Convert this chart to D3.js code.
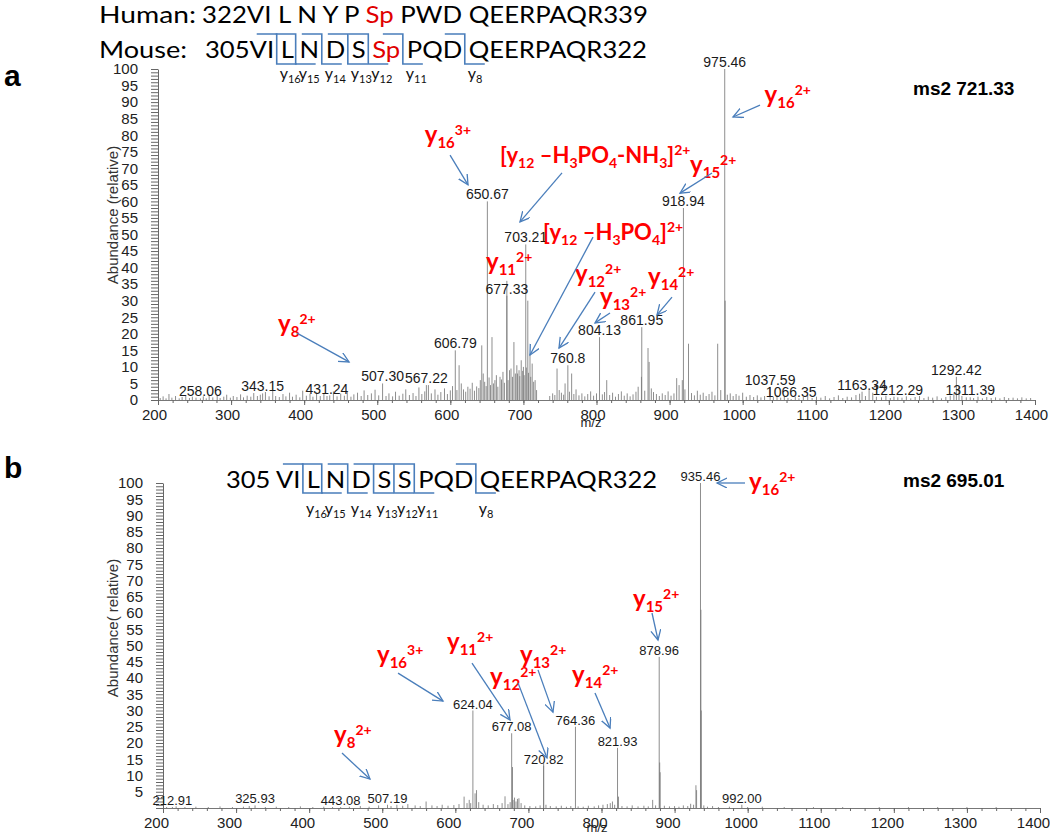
<!DOCTYPE html>
<html>
<head>
<meta charset="utf-8">
<script src="https://cdn.jsdelivr.net/npm/d3@7"></script>
<style>
  body { margin: 0; background: #fff; }
</style>
</head>
<body>
<svg id="chart" width="1050" height="836"></svg>
<script>
// ---------------- data: panel a (ms2 721.33) ----------------
// labelled peaks: [label text = m/z, label height (relative abundance)]
const labeledA = [["975.46",100],["918.94",58],["650.67",60],["703.21",47],["677.33",31.5],["861.95",22],
  ["804.13",19],["760.8",10.5],["606.79",15],["567.22",4.5],["507.30",5],["431.24",1.2],["343.15",2],
  ["258.06",0.5],["1037.59",4],["1066.35",0.3],["1163.34",2.5],["1212.29",0.8],["1292.42",7],["1311.39",0.8]];
const peaksA = [[677.33,36],[612,10.5],[643,16.5],[645,8],[657,19],[661,6],[668,7],[681,9],[687,17.5],[692,8],[697,12],
  [700,10],[706,30],[709,14],[712,11],[716,6],[746,9.5],[757,5],[766,8],[814,6],[861.5,7],[870.5,15.7],
  [872,11.5],[909.7,6.6],[917.4,6],[925.9,17],[965.8,17],[976,30]];
const noiseA = [[203,0.6],[207,1.1],[211,0.5],[215,1.8],[219,0.7],[224,1.2],[229,0.5],[233,0.9],[238,1.4],[243,0.6],
  [247,1.0],[252,0.7],[262,1.1],[266,0.5],[270,1.5],[275,0.8],[281,1.2],[285,0.6],[290,1.0],[294,1.6],[299,0.7],
  [303,1.2],[308,0.9],[313,1.7],[317,0.8],[322,1.3],[327,1.0],[331,2.1],[336,1.2],[340,1.6],[347,2.4],[352,1.1],
  [357,3.0],[361,1.2],[366,0.9],[371,1.8],[375,1.1],[380,2.2],[384,1.0],[389,1.6],[394,0.8],[398,2.8],[403,1.3],
  [408,1.9],[412,1.0],[417,2.3],[422,1.2],[427,1.8],[435,1.4],[440,2.6],[445,1.1],[450,1.9],[455,1.3],[459,2.4],
  [464,1.0],[468,1.7],[473,2.2],[478,1.2],[482,2.9],[487,1.5],[492,2.0],[497,3.1],[502,1.4],[512,1.2],[516,2.0],
  [521,1.1],[525,2.5],[530,1.3],[535,1.9],[539,3.2],[544,1.5],[549,2.1],[553,1.2],[557,3.8],[561,1.8],[565,2.6],
  [570,4.5],[574,2.0],[579,3.2],[583,1.6],[587,2.4],[592,3.5],[596,1.8],[600,2.9],[603,4.2],[609,3.0],[615,5.0],
  [618,3.2],[621,2.5],[624,4.0],[627,3.4],[630,5.2],[633,2.8],[636,4.1],[639,3.6],[641,6.0],[647,5.5],[649,4.2],
  [653,6.8],[655,4.5],[659,5.0],[663,7.5],[665,4.0],[670,6.2],[672,8.5],[674,5.2],[679,6.0],[683,9.5],[685,7.0],
  [689,8.0],[691,10.5],[694,9.0],[695,7.2],[699,8.8],[701,7.5],[704,9.8],[707,8.2],[710,7.0],[714,5.5],[718,3.0],
  [736,1.2],[740,2.0],[743,1.5],[749,3.0],[752,2.2],[755,1.6],[763,2.5],[769,1.8],[772,3.2],[776,1.4],[780,2.0],
  [784,1.1],[788,1.8],[792,2.6],[796,1.3],[800,2.0],[808,1.7],[811,2.4],[818,1.5],[822,2.2],[826,1.0],[830,1.8],
  [834,2.6],[838,1.3],[842,2.0],[846,1.1],[850,1.7],[854,2.5],[857,4.0],[866,2.8],[875,3.5],[878,2.4],[882,1.8],
  [886,1.2],[890,2.0],[894,1.5],[898,2.6],[902,1.3],[906,2.0],[913,4.5],[921,3.2],[930,2.1],[934,1.4],[938,2.8],
  [942,1.6],[946,2.2],[950,1.2],[954,1.8],[958,2.5],[962,1.4],[970,3.0],[979,1.6],[983,2.0],[987,1.2],[991,1.8],
  [995,1.3],[1000,2.2],[1005,1.0],[1010,1.5],[1015,0.9],[1020,1.4],[1025,0.8],[1030,1.2],[1042,1.0],[1047,1.5],
  [1052,0.7],[1057,1.1],[1062,0.6],[1072,1.0],[1077,0.5],[1083,0.9],[1089,1.3],[1095,0.6],[1101,1.0],[1107,0.7],
  [1113,1.2],[1119,0.5],[1125,0.9],[1131,1.4],[1137,0.6],[1143,1.0],[1149,0.8],[1155,1.5],[1160,1.9],[1168,1.2],
  [1173,3.0],[1178,2.2],[1183,1.0],[1190,0.8],[1196,1.3],[1202,0.6],[1207,1.0],[1218,0.7],[1224,1.1],[1230,0.5],
  [1236,0.9],[1242,1.2],[1248,0.6],[1254,1.0],[1260,0.7],[1266,1.1],[1272,0.5],[1278,0.9],[1284,1.3],[1289,2.0],
  [1296,4.0],[1300,1.2],[1306,0.8],[1316,0.6],[1322,1.0],[1328,0.5],[1334,0.9],[1340,0.6],[1346,0.8],[1352,0.5],
  [1358,0.9],[1364,0.6],[1370,0.7],[1376,0.5],[1382,0.8],[1388,0.5],[1394,0.6]];

// ion annotations: [ion, subscript, superscript, label m/z, label abundance, arrow from m/z, abundance, arrow to m/z, abundance]
const ionsA = [
  ["y","16","3+",565,77.6, 599.6,74.0, 624.2,65.0],
  ["y","15","2+",928,68.6, 958.1,68.6, 914.3,62.5],
  ["y","16","2+",1030,89.7, 1023.7,89.1, 986.8,85.5],
  ["y","11","2+",648.8,39.3, null,null, null,null],
  ["y","12","2+",770.6,35.6, 798.0,32.6, 748.7,15.7],
  ["y","13","2+",804.8,28.7, 818.5,26.3, 798.0,23.3],
  ["y","14","2+",870.5,34.7, 903.3,31.1, 882.8,25.7],
  ["y","8","2+",364.2,20.5, 390.2,20.2, 461.4,11.5]
];
const lossA = [
  [[["[y",""],["12","sub"],[" \u2013H",""],["3","sub"],["PO",""],["4","sub"],["-NH",""],["3","sub"],["]",""],["2+","sup"]],
    668,71.6, 752.8,68.6, 695.3,53.8],
  [[["[y",""],["12","sub"],[" \u2013H",""],["3","sub"],["PO",""],["4","sub"],["]",""],["2+","sup"]],
    726.8,48.3, 795.2,49.2, 709.0,13.6]
];

// ---------------- data: panel b (ms2 695.01) ----------------
const labeledB = [["935.46",100],["878.96",46.5],["821.93",18.5],["764.36",25],["720.82",13],["677.08",23],
  ["624.04",30],["507.19",1],["443.08",0.3],["325.93",0.8],["212.91",0.3],["992.00",1]];
const peaksB = [[720.82,14],[678.2,12.6],[823.2,3.5],[879.6,14],[880.2,11],[929.2,7],[930.1,5.5],[936.0,61],[936.5,30]];
const noiseB = [[205,0.3],[218,0.5],[230,0.3],[245,0.4],[262,0.3],[278,0.5],[295,0.3],[310,0.4],[318,0.6],[340,0.3],
  [355,0.4],[372,0.3],[388,0.5],[405,0.3],[420,0.4],[432,0.3],[455,0.4],[470,0.6],[482,0.4],[495,0.8],[512,0.6],
  [520,1.0],[528,0.7],[535,1.2],[545,0.8],[552,0.6],[560,2.0],[568,0.8],[575,0.6],[582,1.0],[590,0.7],[598,0.9],
  [605,1.2],[612,3.5],[616,1.5],[619,2.5],[621,1.5],[627,4.5],[629,5.5],[632,1.8],[638,1.0],[645,0.8],[652,1.2],
  [658,0.9],[664,1.5],[668,3.6],[672,1.2],[675,1.8],[679,2.5],[681,3.2],[683,2.0],[685,2.8],[687,3.0],[690,1.5],
  [695,0.8],[702,0.6],[710,0.5],[716,0.8],[724,1.0],[730,0.6],[738,0.5],[745,0.7],[752,0.4],[758,0.6],[768,0.5],
  [775,0.4],[782,0.7],[790,0.5],[796,0.8],[802,1.0],[808,1.2],[812,1.5],[815,2.0],[818,1.0],[828,0.6],[835,0.5],
  [842,0.8],[850,0.5],[858,0.7],[864,0.5],[870,2.5],[874,0.8],[886,0.7],[893,0.5],[900,0.6],[906,0.4],[912,0.8],
  [918,0.6],[922,1.3],[926,1.0],[940,0.8],[945,0.4],[952,0.6],[960,0.3],[975,0.4],[1000,0.3],[1020,0.4],[1050,0.3],
  [1090,0.3],[1130,0.3],[1180,0.3],[1220,0.3],[1260,0.3],[1300,0.3],[1340,0.3]];
const ionsB = [
  ["y","16","3+",492.8,44.6, 521.6,41.5, 583.1,32.9],
  ["y","11","2+",588.6,48.6, 622.8,44.6, 674.8,27.1],
  ["y","12","2+",647.5,37.8, 685.8,38.5, 725.4,15.4],
  ["y","13","2+",688.5,44.6, 713.1,42.5, 733.6,29.5],
  ["y","14","2+",759.7,38.5, 791.1,35.4, 811.7,24.6],
  ["y","8","2+",434,20, 444.9,16.9, 483.2,8.9],
  ["y","15","2+",843.1,61.8, 869.1,60, 877.3,51.7],
  ["y","16","2+",1001.9,97.8, 996.4,100, 958.1,100]
];

// sequences: parts [text, colour]; cuts = char index of the residue after each cleavage
const seqHuman = [["322VI L N Y P ","#000"],["Sp","#e00000"],[" PWD QEERPAQR339","#000"]];
const seqMouse = [["305VI L N D S ","#000"],["Sp","#e00000"],[" PQD QEERPAQR322","#000"]];
const seqB = [["305 VI L N D S S PQD QEERPAQR322","#000"]];
const cutsMouse = [6, 8, 10, 12, 14, 17, 21];
const cutsB = [7, 9, 11, 13, 15, 17, 21];
const ionNames = ["16","15","14","13","12","11","8"];

const xTicks = d3.range(200, 1401, 100);

// ------------------------------------------------------------------
const svg = d3.select("#chart");
const AX_FONT = "'Liberation Sans', Arial, Helvetica, sans-serif";
const SEQ_FONT = "Lato, 'Noto Sans', sans-serif";
const BLUE = "#4a7ebb";

svg.append("defs").append("marker")
  .attr("id", "arr").attr("markerUnits", "userSpaceOnUse")
  .attr("markerWidth", 14).attr("markerHeight", 14)
  .attr("refX", 10).attr("refY", 5).attr("orient", "auto")
  .append("path").attr("d", "M0,0 L10,5 L0,10")
  .attr("fill", "none").attr("stroke", BLUE).attr("stroke-width", 1.3);

function seqText(x, y, width) {
  return svg.append("text")
    .attr("x", x).attr("y", y)
    .attr("font-family", SEQ_FONT).attr("font-size", 24)
    .attr("textLength", width).attr("lengthAdjust", "spacingAndGlyphs")
    .style("white-space", "pre");
}

function drawSeq(x, y, parts, width, cuts, top, bottom, labelY) {
  const t = seqText(x, y, width);
  parts.forEach(p => t.append("tspan").attr("fill", p[1]).text(p[0]));
  if (!cuts) return;
  const node = t.node();
  cuts.forEach((ci, i) => {
    const s = node.getStartPositionOfChar(ci - 1).x;
    const e = node.getEndPositionOfChar(ci - 1).x;
    const vx = s + (e - s) * 0.4;
    svg.append("path")
      .attr("d", `M${vx - 20},${top} H${vx} V${bottom} H${vx + 20}`)
      .attr("fill", "none").attr("stroke", BLUE).attr("stroke-width", 1.6);
    const lab = svg.append("text").attr("x", vx + 3).attr("y", labelY)
      .attr("font-family", SEQ_FONT).attr("font-size", 16).attr("fill", "#111");
    lab.append("tspan").text("y");
    lab.append("tspan").attr("font-size", 11).attr("dy", 4).text(ionNames[i]);
  });
}

function drawPanel(o) {
  const x = d3.scaleLinear().domain([200, 1400]).range(o.xr);
  const y = d3.scaleLinear().domain([0, 100]).range(o.yr);
  const g = svg.append("g");

  // y ruler axis
  const ya = g.append("g").attr("transform", `translate(${o.xr[0]},0)`)
    .call(d3.axisLeft(y).tickValues(d3.range(0, 101, 1)).tickSize(7).tickSizeOuter(0).tickPadding(13)
      .tickFormat(d => (d % 5 === 0 && d >= o.minLabel) ? d : ""));
  ya.selectAll("line").attr("stroke", "#666");
  ya.select(".domain").attr("stroke", "#666");
  ya.selectAll("text").attr("font-family", AX_FONT).attr("font-size", 15).attr("fill", "#222");

  // x axis: minor then major
  const xm = g.append("g").attr("transform", `translate(0,${o.yr[0]})`)
    .call(d3.axisBottom(x).tickValues(d3.range(200, 1401, 20)).tickSize(3).tickFormat(""));
  xm.selectAll("line").attr("stroke", "#666");
  xm.select(".domain").attr("stroke", "#777");
  const xa = g.append("g").attr("transform", `translate(0,${o.yr[0]})`)
    .call(d3.axisBottom(x).tickValues(xTicks).tickSize(5).tickPadding(4).tickFormat(d3.format("d")));
  xa.select(".domain").remove();
  xa.selectAll("line").attr("stroke", "#666");
  xa.selectAll("text").attr("font-family", AX_FONT).attr("font-size", 15).attr("fill", "#222").attr("dx", o.tickDx);

  g.append("text").attr("x", o.mzPos[0]).attr("y", o.mzPos[1]).attr("text-anchor", "middle")
    .attr("font-family", AX_FONT).attr("font-size", 13).attr("fill", "#222").text("m/z");
  g.append("text").attr("transform", `translate(${o.titlePos[0]},${o.titlePos[1]}) rotate(-90)`)
    .attr("text-anchor", "middle").attr("font-family", AX_FONT).attr("font-size", 15).attr("fill", "#333")
    .text(o.title);

  // peaks
  const all = o.noise.concat(o.peaks).concat(o.labeled.map(d => [+d[0], d[1]]));
  g.append("g").selectAll("line").data(all).join("line")
    .attr("x1", d => x(d[0])).attr("x2", d => x(d[0]))
    .attr("y1", y(0)).attr("y2", d => y(d[1]))
    .attr("stroke", "#7a7a7a").attr("stroke-opacity", 0.85).attr("stroke-width", 1);

  g.append("g").selectAll("text").data(o.labeled).join("text")
    .attr("x", d => x(+d[0])).attr("y", d => y(d[1]) - 2)
    .attr("text-anchor", "middle").attr("font-family", AX_FONT).attr("font-size", o.labelSize)
    .attr("fill", "#1a1a1a").text(d => d[0]);

  // ion annotations
  o.ions.forEach(d => {
    const t = g.append("text").attr("x", x(d[3])).attr("y", y(d[4]))
      .attr("font-family", SEQ_FONT).attr("font-weight", "bold").attr("font-size", 24).attr("fill", "#ff0000");
    t.append("tspan").text(d[0]);
    t.append("tspan").attr("font-size", 15).attr("dy", 5).text(d[1]);
    t.append("tspan").attr("font-size", 14).attr("dy", -13).text(d[2]);
    if (d[5] !== null) arrow(g, x(d[5]), y(d[6]), x(d[7]), y(d[8]));
  });
  (o.loss || []).forEach(d => {
    const t = g.append("text").attr("x", x(d[1])).attr("y", y(d[2]))
      .attr("font-family", SEQ_FONT).attr("font-weight", "bold").attr("font-size", 22).attr("fill", "#ff0000")
      .style("white-space", "pre");
    let shift = 0;
    d[0].forEach(p => {
      const want = p[1] === "sub" ? 5 : p[1] === "sup" ? -8 : 0;
      const ts = t.append("tspan").attr("dy", want - shift).text(p[0]);
      if (p[1]) ts.attr("font-size", 14);
      shift = want;
    });
    arrow(g, x(d[3]), y(d[4]), x(d[5]), y(d[6]));
  });
  return { x, y };
}

function arrow(g, x1, y1, x2, y2) {
  g.append("line").attr("x1", x1).attr("y1", y1).attr("x2", x2).attr("y2", y2)
    .attr("stroke", BLUE).attr("stroke-width", 1.3).attr("marker-end", "url(#arr)");
}

// sequences (row label and sequence laid out separately)
seqText(99, 23, 97).text("Human:");
drawSeq(202, 23, seqHuman, 446, null);
seqText(99, 58, 88).text("Mouse:");
drawSeq(205, 58, seqMouse, 442, cutsMouse, 34, 64, 79);
drawSeq(226, 488, seqB, 431, cutsB, 464, 493, 514);

// panels
drawPanel({ xr: [158, 1035], yr: [400, 69], minLabel: 0, labeled: labeledA, peaks: peaksA, noise: noiseA,
  ions: ionsA, loss: lossA, labelSize: 14, tickDx: -4, mzPos: [591, 427], titlePos: [118, 215],
  title: "Abundance (relative)" });
drawPanel({ xr: [163, 1040], yr: [808, 483], minLabel: 5, labeled: labeledB, peaks: peaksB, noise: noiseB,
  ions: ionsB, labelSize: 13, tickDx: -7, mzPos: [597, 832], titlePos: [118, 628],
  title: "Abundance( relative)" });

// panel letters and scan titles
[["a", 4, 86], ["b", 4, 478]].forEach(d =>
  svg.append("text").attr("x", d[1]).attr("y", d[2]).attr("font-family", AX_FONT)
    .attr("font-weight", "bold").attr("font-size", 30).attr("fill", "#000").text(d[0]));
[["ms2 721.33", 913, 95], ["ms2 695.01", 903, 487]].forEach(d =>
  svg.append("text").attr("x", d[1]).attr("y", d[2]).attr("font-family", AX_FONT)
    .attr("font-weight", "bold").attr("font-size", 19).attr("fill", "#000").text(d[0]));
</script>
</body>
</html>
